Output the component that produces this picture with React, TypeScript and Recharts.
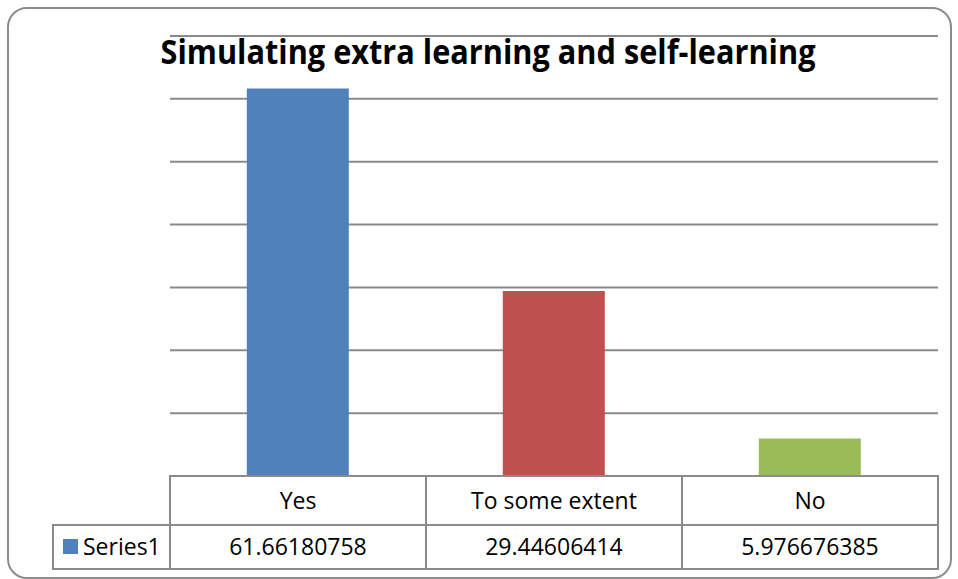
import { BarChart, Bar, Cell, XAxis, YAxis, CartesianGrid } from 'recharts';

const categories = ['Yes', 'To some extent', 'No'];
const seriesValues = [61.66180758, 29.44606414, 5.976676385];
const valueLabels = ['61.66180758', '29.44606414', '5.976676385'];
const seriesName = 'Series1';
const barColors = ['#4F81BD', '#C0504D', '#9BBB59'];
const yTicks = [0, 10, 20, 30, 40, 50, 60, 70];

const data = categories.map((name, i) => ({ name, value: seriesValues[i] }));

const W = 958;
const H = 579;
const PLOT_LEFT = 170;
const PLOT_RIGHT = 938;
const BAND = (PLOT_RIGHT - PLOT_LEFT) / categories.length;
const ROW1 = 49;
const ROW2 = 44;
const GRID = '#8a8a8a';
const FONT = '"Open Sans", sans-serif';

// x-axis tick draws one column of the data table under the bars
const TableTick = (props: any) => {
  const { x, y, payload } = props;
  const left = x - BAND / 2;
  const i = payload.index;
  return (
    <g>
      <rect x={left} y={y} width={BAND} height={ROW1 + ROW2} fill="none" stroke={GRID} strokeWidth={2} />
      <line x1={left} x2={left + BAND} y1={y + ROW1} y2={y + ROW1} stroke={GRID} strokeWidth={2} />
      <text x={x} y={y + ROW1 / 2 + 8} textAnchor="middle" fontSize={23} fontFamily={FONT} fill="#000">
        {payload.value}
      </text>
      <text x={x} y={y + ROW1 + ROW2 / 2 + 8} textAnchor="middle" fontSize={23} fontFamily={FONT} fill="#000">
        {valueLabels[i]}
      </text>
      {i === 0 && (
        <g>
          <rect x={53} y={y + ROW1} width={left - 53} height={ROW2} fill="none" stroke={GRID} strokeWidth={2} />
          <rect x={63} y={y + ROW1 + 14} width={15} height={15} fill={barColors[0]} />
          <text x={83} y={y + ROW1 + ROW2 / 2 + 8} fontSize={23} fontFamily={FONT} fill="#000">
            {seriesName}
          </text>
        </g>
      )}
    </g>
  );
};

const App = () => {
  return (
    <div style={{ position: 'absolute', left: 0, top: 0, width: W, height: H, background: '#fff' }}>
      <div
        style={{
          position: 'absolute',
          left: 7,
          top: 7,
          width: 941,
          height: 568,
          border: '2px solid #8c8c8c',
          borderRadius: 20,
        }}
      />
      <BarChart
        width={W}
        height={H}
        data={data}
        margin={{ top: 36, right: W - PLOT_RIGHT, bottom: 10, left: PLOT_LEFT }}
        barCategoryGap="30%"
        style={{ position: 'absolute', left: 0, top: 0 }}
      >
        <CartesianGrid vertical={false} stroke={GRID} strokeWidth={2} />
        <YAxis hide domain={[0, 70]} ticks={yTicks} />
        <XAxis
          dataKey="name"
          axisLine={false}
          tickLine={false}
          tickSize={0}
          tickMargin={0}
          height={93}
          interval={0}
          tick={<TableTick />}
        />
        <Bar dataKey="value" isAnimationActive={false}>
          {data.map((d, i) => (
            <Cell key={d.name} fill={barColors[i]} />
          ))}
        </Bar>
        <text
          x={488}
          y={64}
          textAnchor="middle"
          fontSize={34}
          fontWeight="bold"
          fontFamily={FONT}
          fill="#000"
          textLength={655}
          lengthAdjust="spacingAndGlyphs"
        >
          Simulating extra learning and self-learning
        </text>
      </BarChart>
    </div>
  );
};

export default App;
